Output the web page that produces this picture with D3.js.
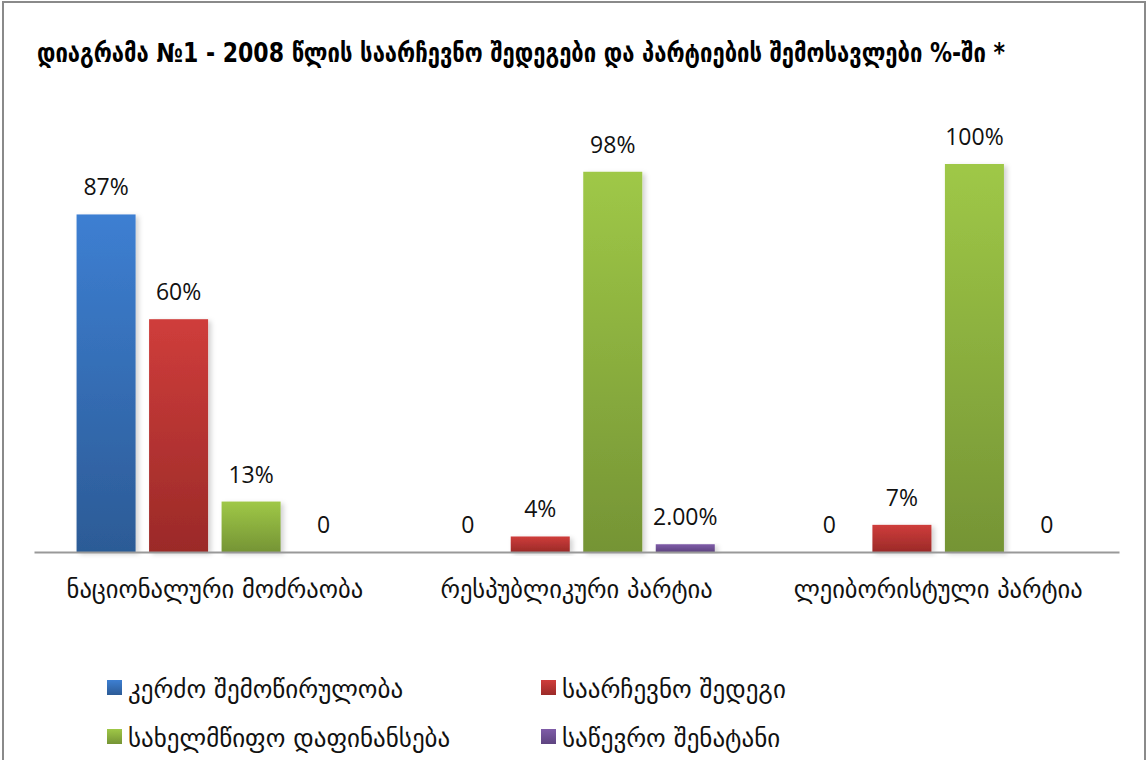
<!DOCTYPE html>
<html lang="ka">
<head>
<meta charset="UTF-8">
<title>დიაგრამა №1</title>
<script src="https://cdn.jsdelivr.net/npm/d3@7"></script>
<style>
    body { margin: 0; background: #fff; }
    .geo { font-family: 'DejaVu Sans', sans-serif; fill: #111; }
    .val { font-family: 'Open Sans', 'Liberation Sans', sans-serif; font-size: 23px; fill: #111; }
    .title { font-family: 'DejaVu Sans Condensed', 'DejaVu Sans', sans-serif; font-weight: bold; font-size: 26px; fill: #000; }
</style>
</head>
<body>
<svg id="chart" width="1147" height="760"></svg>
<script>
    // data
    var categories = ["ნაციონალური მოძრაობა", "რესპუბლიკური პარტია", "ლეიბორისტული პარტია"];
    var seriesNames = ["კერძო შემოწირულობა", "საარჩევნო შედეგი", "სახელმწიფო დაფინანსება", "საწევრო შენატანი"];
    var donations = [87, 0, 0];
    var electionResult = [60, 4, 7];
    var stateFunding = [13, 98, 100];
    var membershipFees = [0, 2, 0];
    var donationLabels = ["87%", "0", "0"];
    var electionLabels = ["60%", "4%", "7%"];
    var stateLabels = ["13%", "98%", "100%"];
    var membershipLabels = ["0", "2.00%", "0"];

    var seriesValues = [donations, electionResult, stateFunding, membershipFees];
    var seriesLabels = [donationLabels, electionLabels, stateLabels, membershipLabels];
    var colors = [["#3d7fd2", "#2c5b96"], ["#cf3d3b", "#9b2a28"], ["#9fc847", "#759435"], ["#7f5ca8", "#5e4480"]];

    var WIDTH = 1147, HEIGHT = 760,
        MARGINS = { left: 34, right: 28, axisY: 552, top: 164 };

    var svg = d3.select("#chart");

    // frame
    svg.append("rect")
        .attr("x", 3).attr("y", 2)
        .attr("width", WIDTH - 5).attr("height", HEIGHT + 10)
        .attr("fill", "#fff")
        .attr("stroke", "#8a8a8a")
        .attr("stroke-width", 2);

    var defs = svg.append("defs");
    colors.forEach(function (c, i) {
        var g = defs.append("linearGradient")
            .attr("id", "grad" + i)
            .attr("x1", 0).attr("y1", 0).attr("x2", 0).attr("y2", 1);
        g.append("stop").attr("offset", "0%").attr("stop-color", c[0]);
        g.append("stop").attr("offset", "100%").attr("stop-color", c[1]);
    });
    var shadow = defs.append("filter").attr("id", "shadow")
        .attr("x", "-10%").attr("y", "-10%").attr("width", "130%").attr("height", "130%");
    shadow.append("feDropShadow")
        .attr("dx", 3).attr("dy", 2).attr("stdDeviation", 2.5)
        .attr("flood-color", "#000").attr("flood-opacity", 0.18);

    // title
    var title = svg.append("text")
        .attr("class", "title")
        .attr("x", 37).attr("y", 62)
        .text("დიაგრამა №1 - 2008 წლის საარჩევნო შედეგები და პარტიების შემოსავლები %-ში *");
    if (title.node().getComputedTextLength() > 968) {
        title.attr("textLength", 968).attr("lengthAdjust", "spacingAndGlyphs");
    }

    var x0 = d3.scaleBand()
        .domain(categories)
        .range([MARGINS.left, WIDTH - MARGINS.right]);

    var x1 = d3.scaleBand()
        .domain(d3.range(seriesNames.length))
        .range([0, x0.bandwidth()])
        .paddingInner(0.186)
        .paddingOuter(0.587);

    var y = d3.scaleLinear()
        .domain([0, 100])
        .range([MARGINS.axisY, MARGINS.top]);

    var groups = svg.selectAll(".group")
        .data(categories)
        .enter().append("g")
        .attr("class", "group")
        .attr("transform", function (d) { return "translate(" + x0(d) + ",0)"; });

    groups.each(function (cat, ci) {
        var g = d3.select(this);
        var items = seriesValues.map(function (vals, si) {
            return { s: si, v: vals[ci], label: seriesLabels[si][ci] };
        });

        g.selectAll("rect")
            .data(items.filter(function (d) { return d.v > 0; }))
            .enter().append("rect")
            .attr("x", function (d) { return x1(d.s); })
            .attr("y", function (d) { return y(d.v); })
            .attr("width", x1.bandwidth())
            .attr("height", function (d) { return y(0) - y(d.v); })
            .attr("fill", function (d) { return "url(#grad" + d.s + ")"; })
            .attr("filter", "url(#shadow)");

        g.selectAll("text")
            .data(items)
            .enter().append("text")
            .attr("class", "val")
            .attr("text-anchor", "middle")
            .attr("x", function (d) { return x1(d.s) + x1.bandwidth() / 2; })
            .attr("y", function (d) { return y(d.v) - 19; })
            .text(function (d) { return d.label; });
    });

    // axis
    var xAxis = d3.axisBottom(x0).tickSize(0).tickPadding(0);
    var axisG = svg.append("g")
        .attr("transform", "translate(0," + MARGINS.axisY + ")")
        .call(xAxis);
    axisG.select(".domain").attr("stroke", "#999").attr("stroke-width", 2);
    axisG.selectAll(".tick text")
        .attr("class", "geo")
        .attr("font-size", 24.5)
        .attr("y", 37)
        .attr("dy", "0.35em")
        .attr("fill", "#111");

    // legend
    var legendPos = [[107, 680], [541, 680], [107, 729], [541, 729]];
    var legend = svg.selectAll(".legend")
        .data(seriesNames)
        .enter().append("g")
        .attr("class", "legend")
        .attr("transform", function (d, i) { return "translate(" + legendPos[i][0] + "," + legendPos[i][1] + ")"; });
    legend.append("rect")
        .attr("width", 15).attr("height", 15)
        .attr("fill", function (d, i) { return "url(#grad" + i + ")"; });
    legend.append("text")
        .attr("class", "geo")
        .attr("x", 21).attr("y", 9)
        .attr("dy", "0.35em")
        .attr("font-size", 25)
        .text(function (d) { return d; });
</script>
</body>
</html>
